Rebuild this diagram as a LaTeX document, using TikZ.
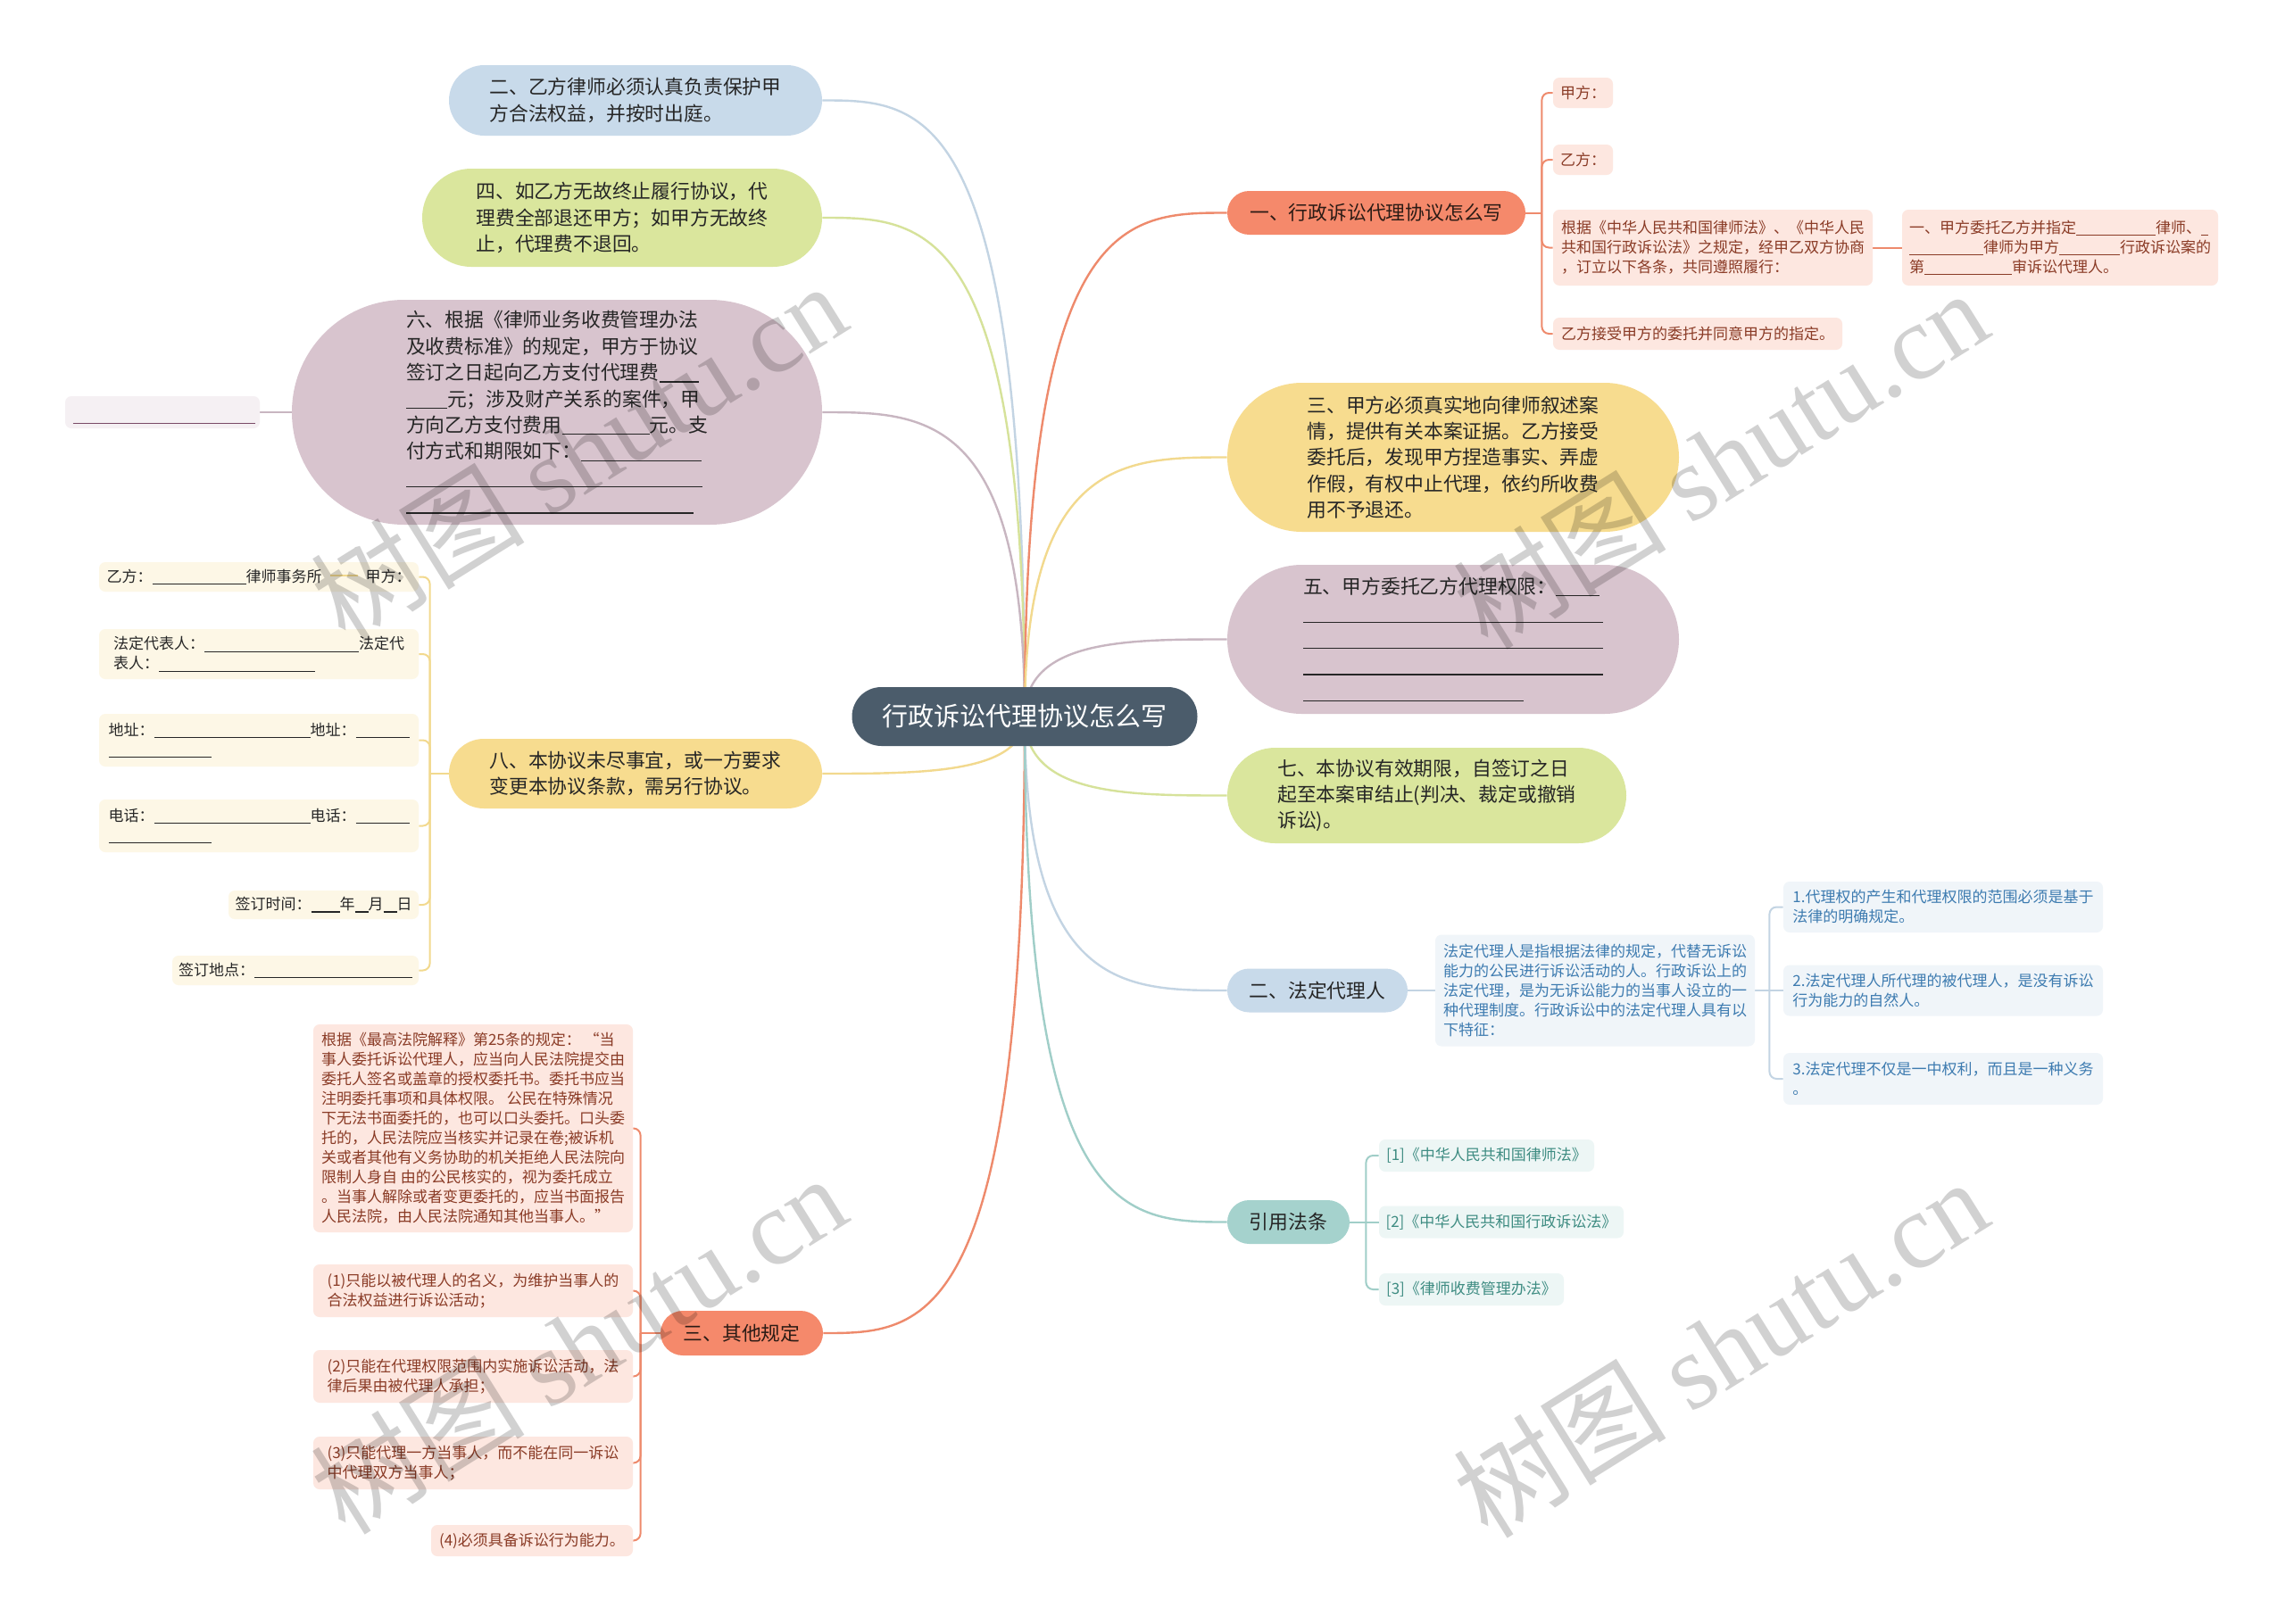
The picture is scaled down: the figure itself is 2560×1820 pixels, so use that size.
\documentclass[tikz,border=0pt]{standalone}
\usepackage{fontspec}
\setmainfont{Noto Sans CJK SC}
\newfontfamily\wmlatin{Liberation Serif}
\usetikzlibrary{shapes.misc,calc}
\pgfdeclarelayer{back}
\pgfdeclarelayer{lines}
\pgfdeclarelayer{front}
\pgfsetlayers{back,lines,main,front}
\definecolor{rootc}{HTML}{4B5C6B}
\definecolor{salmf}{HTML}{F5896B}
\definecolor{salml}{HTML}{EE8A6C}
\definecolor{salmt}{HTML}{2B1B15}
\definecolor{pinkk}{HTML}{FDE7E0}
\definecolor{pinkt}{HTML}{8A3B26}
\definecolor{yelf}{HTML}{F7DC8F}
\definecolor{yell}{HTML}{F2D98E}
\definecolor{yelk}{HTML}{FDF7E6}
\definecolor{bluef}{HTML}{C8DAEA}
\definecolor{bluel}{HTML}{C3D4E3}
\definecolor{bluek}{HTML}{F0F5F9}
\definecolor{bluet}{HTML}{3D7BB0}
\definecolor{grnf}{HTML}{DAE69D}
\definecolor{grnl}{HTML}{D6E29A}
\definecolor{mauf}{HTML}{D8C4CE}
\definecolor{maul}{HTML}{C8B6C1}
\definecolor{mauk}{HTML}{F5F0F3}
\definecolor{maud}{HTML}{7A4A66}
\definecolor{tealf}{HTML}{A5D2CD}
\definecolor{teall}{HTML}{A0CEC8}
\definecolor{tealk}{HTML}{EDF6F5}
\definecolor{tealt}{HTML}{3E8C82}
\definecolor{txt}{HTML}{262626}
\newcommand\bl[1]{\vphantom{国}\rule[-1.4pt]{\dimexpr #1pt/2\relax}{0.55pt}}
\newcommand\branch[2]{\draw[br,#1] let \p1=(root.center), \p2=(#2) in (\p1) .. controls (\x1,\y2) and ({0.5*\x1+0.5*\x2},\y2) .. (\p2);}
\tikzset{
  pill/.style={rounded rectangle, inner sep=0pt, align=left, text=txt, font=\fontsize{10.9pt}{14.7pt}\selectfont},
  kid/.style={rectangle, rounded corners=3.5pt, inner sep=0pt, align=left, font=\fontsize{8.5pt}{11pt}\selectfont},
  br/.style={line width=1.2pt},
  sub/.style={line width=1pt, rounded corners=4pt},
  wm/.style={font=\fontsize{60pt}{64pt}\selectfont, text=black, opacity=0.18, rotate=32},
}
\begin{document}
\begin{tikzpicture}[x=0.5pt,y=-0.5pt]
\begin{pgfonlayer}{back}
\fill[white] (0,0) rectangle (2560,1820);
\end{pgfonlayer}
\useasboundingbox (0,0) rectangle (2560,1820);

% root
\node[pill, fill=rootc, text=white, font=\fontsize{14.5pt}{17pt}\selectfont, minimum width=193.5pt, minimum height=33pt] (root) at (1148,803) {行政诉讼代理协议怎么写};

% left main branches
\node[pill, fill=bluef, minimum width=209pt, minimum height=39.5pt] (A) at (712,112.5) {二、乙方律师必须认真负责保护甲\\方合法权益，并按时出庭。};
\node[pill, fill=grnf, minimum width=224pt, minimum height=55pt] (B) at (697,244) {四、如乙方无故终止履行协议，代\\理费全部退还甲方；如甲方无故终\\止，代理费不退回。};
\node[pill, fill=mauf, minimum width=297pt, minimum height=126pt] (C) at (624,462) {六、根据《律师业务收费管理办法\\及收费标准》的规定，甲方于协议\\签订之日起向乙方支付代理费\bl{44}\\\bl{46}元；涉及财产关系的案件，甲\\方向乙方支付费用\bl{98}元。支\\付方式和期限如下：\bl{135}\\\bl{332}\\\bl{322}};
\node[kid, fill=mauk, minimum width=109pt, minimum height=18pt] (D) at (182,462) {};
\node[pill, fill=yelf, minimum width=209pt, minimum height=39pt] (E) at (712,867) {八、本协议未尽事宜，或一方要求\\变更本协议条款，需另行协议。};
\node[pill, fill=salmf, text=salmt, minimum width=91pt, minimum height=25pt] (F) at (831,1494) {三、其他规定};

% right main branches
\node[pill, fill=salmf, text=salmt, minimum width=167pt, minimum height=24.5pt] (G) at (1542,238.5) {一、行政诉讼代理协议怎么写};
\node[pill, fill=yelf, minimum width=253pt, minimum height=83.5pt] (H) at (1628,512.5) {三、甲方必须真实地向律师叙述案\\情，提供有关本案证据。乙方接受\\委托后，发现甲方捏造事实、弄虚\\作假，有权中止代理，依约所收费\\用不予退还。};
\node[pill, fill=mauf, minimum width=253pt, minimum height=83.5pt] (I) at (1628,716.5) {五、甲方委托乙方代理权限：\bl{49}\\\bl{336}\\\bl{336}\\\bl{336}\\\bl{247}};
\node[pill, fill=grnf, minimum width=223.5pt, minimum height=53.5pt] (J) at (1598.5,891.5) {七、本协议有效期限，自签订之日\\起至本案审结止(判决、裁定或撤销\\诉讼)。};
\node[pill, fill=bluef, minimum width=101pt, minimum height=24.5pt] (K) at (1476,1110) {二、法定代理人};
\node[pill, fill=tealf, minimum width=68.5pt, minimum height=24.5pt] (L) at (1443.5,1369.5) {引用法条};

% children of G
\node[kid, fill=pinkk, text=pinkt, minimum width=33.5pt, minimum height=17pt] (G1) at (1773.5,104) {甲方：};
\node[kid, fill=pinkk, text=pinkt, minimum width=33.5pt, minimum height=17pt] (G2) at (1773.5,179) {乙方：};
\node[kid, fill=pinkk, text=pinkt, minimum width=179pt, minimum height=42.5pt] (G3) at (1919,277.5) {根据《中华人民共和国律师法》、《中华人民\\共和国行政诉讼法》之规定，经甲乙双方协商\\，订立以下各条，共同遵照履行：};
\node[kid, fill=pinkk, text=pinkt, minimum width=177pt, minimum height=42.5pt] (G3a) at (2308,277.5) {一、甲方委托乙方并指定\bl{89}律师、\bl{8}\\\bl{83}律师为甲方\bl{68}行政诉讼案的\\第\bl{98}审诉讼代理人。};
\node[kid, fill=pinkk, text=pinkt, minimum width=162pt, minimum height=18pt] (G4) at (1902,374) {乙方接受甲方的委托并同意甲方的指定。};

% children of K
\node[kid, fill=bluek, text=bluet, minimum width=179pt, minimum height=62.5pt] (K1) at (1787,1110) {法定代理人是指根据法律的规定，代替无诉讼\\能力的公民进行诉讼活动的人。行政诉讼上的\\法定代理，是为无诉讼能力的当事人设立的一\\种代理制度。行政诉讼中的法定代理人具有以\\下特征：};
\node[kid, fill=bluek, text=bluet, minimum width=179pt, minimum height=28.5pt] (K1a) at (2177,1016.5) {1.代理权的产生和代理权限的范围必须是基于\\法律的明确规定。};
\node[kid, fill=bluek, text=bluet, minimum width=179pt, minimum height=28.5pt] (K1b) at (2177,1110) {2.法定代理人所代理的被代理人，是没有诉讼\\行为能力的自然人。};
\node[kid, fill=bluek, text=bluet, minimum width=179pt, minimum height=29pt] (K1c) at (2177,1209) {3.法定代理不仅是一中权利，而且是一种义务\\。};

% children of L
\node[kid, fill=tealk, text=tealt, minimum width=120.5pt, minimum height=18pt] (L1) at (1665.5,1295) {[1]《中华人民共和国律师法》};
\node[kid, fill=tealk, text=tealt, minimum width=137pt, minimum height=18pt] (L2) at (1682,1369.5) {[2]《中华人民共和国行政诉讼法》};
\node[kid, fill=tealk, text=tealt, minimum width=103.5pt, minimum height=18pt] (L3) at (1648.5,1445) {[3]《律师收费管理办法》};

% children of E
\node[kid, fill=yelk, text=txt, minimum width=179pt, minimum height=16.5pt] (E1) at (290,646.5) {乙方：\bl{105}律师事务所\hspace{4.5pt}\textcolor{yell}{\rule[3pt]{15.5pt}{1.1pt}}\hspace{4.5pt}甲方：};
\node[kid, fill=yelk, text=txt, minimum width=179pt, minimum height=28pt] (E2) at (290,733) {法定代表人：\bl{173}法定代\\表人：\bl{175}};
\node[kid, fill=yelk, text=txt, minimum width=179pt, minimum height=29.5pt] (E3) at (290,829.5) {地址：\bl{175}地址：\bl{60}\\\bl{115}};
\node[kid, fill=yelk, text=txt, minimum width=179pt, minimum height=29.5pt] (E4) at (290,925.5) {电话：\bl{175}电话：\bl{60}\\\bl{115}};
\node[kid, fill=yelk, text=txt, minimum width=106.5pt, minimum height=16pt] (E5) at (362.5,1014) {签订时间：\bl{32}年\bl{15}月\bl{15}日};
\node[kid, fill=yelk, text=txt, minimum width=138pt, minimum height=16.5pt] (E6) at (331,1087.5) {签订地点：\bl{177}};

% children of F
\node[kid, fill=pinkk, text=pinkt, minimum width=179pt, minimum height=116.5pt] (F1) at (530,1264.5) {根据《最高法院解释》第25条的规定： “当\\事人委托诉讼代理人，应当向人民法院提交由\\委托人签名或盖章的授权委托书。委托书应当\\注明委托事项和具体权限。 公民在特殊情况\\下无法书面委托的，也可以口头委托。口头委\\托的，人民法院应当核实并记录在卷;被诉机\\关或者其他有义务协助的机关拒绝人民法院向\\限制人身自 由的公民核实的，视为委托成立\\。当事人解除或者变更委托的，应当书面报告\\人民法院，由人民法院通知其他当事人。”};
\node[kid, fill=pinkk, text=pinkt, minimum width=179pt, minimum height=29.5pt] (F2) at (530,1446.5) {(1)只能以被代理人的名义，为维护当事人的\\合法权益进行诉讼活动；};
\node[kid, fill=pinkk, text=pinkt, minimum width=179pt, minimum height=29.5pt] (F3) at (530,1542.5) {(2)只能在代理权限范围内实施诉讼活动，法\\律后果由被代理人承担；};
\node[kid, fill=pinkk, text=pinkt, minimum width=179pt, minimum height=29.5pt] (F4) at (530,1639.5) {(3)只能代理一方当事人，而不能在同一诉讼\\中代理双方当事人；};
\node[kid, fill=pinkk, text=pinkt, minimum width=113pt, minimum height=17.5pt] (F5) at (596,1726.5) {(4)必须具备诉讼行为能力。};

% connectors
\begin{pgfonlayer}{lines}
\branch{bluel}{A.east}
\branch{grnl}{B.east}
\branch{maul}{C.east}
\branch{yell}{E.east}
\branch{salml}{F.east}
\branch{salml}{G.west}
\branch{yell}{H.west}
\branch{maul}{I.west}
\branch{grnl}{J.west}
\branch{bluel}{K.west}
\branch{teall}{L.west}

\draw[sub,maul] (D.east) -- (C.west);

\coordinate (gj) at ($(G.east)+(18,0)$);
\draw[sub,salml] (G.east) -- (gj);
\foreach \n in {G1,G2,G3,G4} \draw[sub,salml] (gj) |- (\n.west);
\draw[sub,salml] (G3.east) -- (G3a.west);

\coordinate (ej) at ($(E.west)+(-21,0)$);
\draw[sub,yell] (E.west) -- (ej);
\foreach \n in {E1,E2,E3,E4,E5,E6} \draw[sub,yell] (ej) |- (\n.east);

\coordinate (fj) at ($(F.west)+(-22,0)$);
\draw[sub,salml] (F.west) -- (fj);
\foreach \n in {F1,F2,F3,F4,F5} \draw[sub,salml] (fj) |- (\n.east);

\draw[sub,bluel] (K.east) -- (K1.west);
\coordinate (kj) at ($(K1.east)+(16,0)$);
\draw[sub,bluel] (K1.east) -- (K1b.west);
\draw[sub,bluel] (kj) |- (K1a.west);
\draw[sub,bluel] (kj) |- (K1c.west);

\coordinate (lj) at ($(L.east)+(18,0)$);
\draw[sub,teall] (L.east) -- (L2.west);
\draw[sub,teall] (lj) |- (L1.west);
\draw[sub,teall] (lj) |- (L3.west);
\end{pgfonlayer}

\draw[maud, line width=0.6pt] ($(D.south west)+(9,-6)$) -- ($(D.south east)+(-5,-6)$);

% watermarks
\begin{pgfonlayer}{front}
\node[wm] (w1) at (648,506) {树图 {\wmlatin shutu.cn}};
\node[wm] (w2) at (1927,514) {树图 {\wmlatin shutu.cn}};
\node[wm] (w3) at (648,1506) {树图 {\wmlatin shutu.cn}};
\node[wm] (w4) at (1927,1510) {树图 {\wmlatin shutu.cn}};
\end{pgfonlayer}
\end{tikzpicture}
\end{document}
